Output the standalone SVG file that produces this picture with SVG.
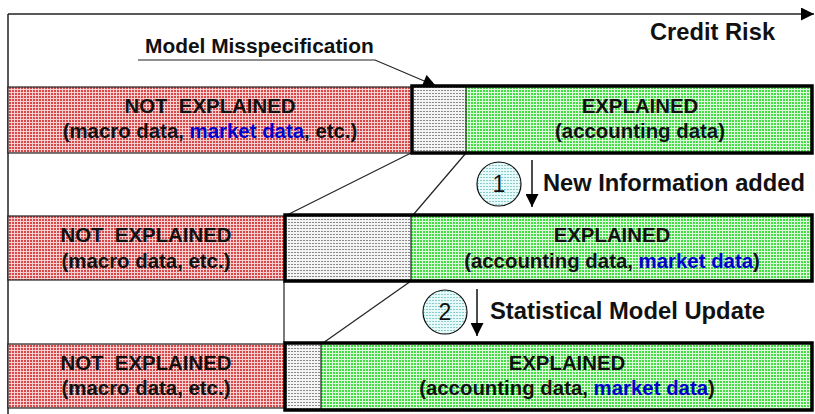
<svg xmlns="http://www.w3.org/2000/svg" width="815" height="414" viewBox="0 0 815 414">
<style>
text{white-space:pre}
.t{font-family:"Liberation Sans",Arial,sans-serif;font-weight:bold;fill:#111}
.c{text-anchor:middle}
.m{fill:#0000cc}
.thin{stroke:#222;stroke-width:1.2;fill:none}
.red{fill:url(#pr);stroke:#222;stroke-width:1.2}
.box{fill:none;stroke:#000;stroke-width:3.5}
.circ{fill:url(#pc);stroke:#111;stroke-width:1.2}
.num{font-family:"Liberation Sans",Arial,sans-serif;font-size:23px;fill:#111;text-anchor:middle}
</style>
<defs>
<pattern id="pr" width="3" height="3" patternUnits="userSpaceOnUse"><rect width="3" height="3" fill="#f6d0d0"/><rect width="2" height="2" fill="#d94848"/></pattern>
<pattern id="pg" width="3" height="3" patternUnits="userSpaceOnUse"><rect width="3" height="3" fill="#dcf9dc"/><rect width="2" height="2" fill="#44dd44"/></pattern>
<pattern id="pk" width="3" height="3" patternUnits="userSpaceOnUse"><rect width="3" height="3" fill="#f4f4f4"/><rect width="2" height="1" fill="#8a8a8a"/></pattern>
<pattern id="pc" width="3" height="3" patternUnits="userSpaceOnUse"><rect width="3" height="3" fill="#e6fafa"/><rect width="2" height="1" fill="#8ccccc"/></pattern>
<marker id="ahb" viewBox="0 0 10 10" refX="10" refY="5" markerWidth="15" markerHeight="13" markerUnits="userSpaceOnUse" orient="auto"><path d="M0,0 L10,5 L0,10 Z" fill="#000"/></marker>
</defs>

<g id="axis">
<line x1="8" y1="14" x2="8" y2="414" stroke="#222" stroke-width="1.5"/>
<line x1="8" y1="14" x2="814" y2="14" stroke="#222" stroke-width="1.5" marker-end="url(#ahb)"/>
<text class="t" x="650" y="40" font-size="23.7">Credit Risk</text>
</g>

<g id="connectors">
<polyline class="thin" points="138,60 375,60 436,86" stroke-width="1.5" marker-end="url(#ahb)"/>
<line class="thin" x1="411" y1="153" x2="287" y2="215"/>
<line class="thin" x1="466" y1="153" x2="413" y2="215"/>
<line class="thin" x1="411" y1="281" x2="323" y2="343"/>
<line class="thin" x1="284" y1="281" x2="284" y2="343"/>
<line x1="532" y1="160" x2="532" y2="207" stroke="#111" stroke-width="1.5" marker-end="url(#ahb)"/>
<line x1="477" y1="289" x2="477" y2="336" stroke="#111" stroke-width="1.5" marker-end="url(#ahb)"/>
</g>

<g id="label-misspec"><text class="t" x="145" y="53" font-size="20.9">Model Misspecification</text></g>

<g id="row1">
<rect class="red" x="8" y="87" width="404" height="66"/>
<rect x="412" y="86" width="54" height="67" fill="url(#pk)"/>
<rect x="466" y="86" width="346" height="67" fill="url(#pg)"/>
<line class="thin" x1="466" y1="86" x2="466" y2="153"/>
<rect class="box" x="412" y="86" width="400" height="67"/>
<text class="t c" x="210" y="113" font-size="20.4">NOT  EXPLAINED</text>
<text class="t c" x="210" y="138" font-size="20.4">(macro data, <tspan class="m">market data</tspan>, etc.)</text>
<text class="t c" x="640" y="113" font-size="20.4">EXPLAINED</text>
<text class="t c" x="640" y="138" font-size="20.4">(accounting data)</text>
</g>

<g id="step1">
<circle class="circ" cx="499" cy="184" r="22"/>
<text class="num" x="499" y="192">1</text>
<text class="t" x="543" y="191" font-size="23.7">New Information added</text>
</g>

<g id="row2">
<rect class="red" x="8" y="216" width="277" height="64"/>
<rect x="285" y="215" width="126" height="66" fill="url(#pk)"/>
<rect x="411" y="215" width="401" height="66" fill="url(#pg)"/>
<line class="thin" x1="411" y1="215" x2="411" y2="281"/>
<rect class="box" x="285" y="215" width="527" height="66"/>
<text class="t c" x="146" y="242" font-size="20.4">NOT  EXPLAINED</text>
<text class="t c" x="146" y="268" font-size="20.4">(macro data, etc.)</text>
<text class="t c" x="612" y="242" font-size="20.4">EXPLAINED</text>
<text class="t c" x="612" y="268" font-size="20.4">(accounting data, <tspan class="m">market data</tspan>)</text>
</g>

<g id="step2">
<circle class="circ" cx="445" cy="312" r="22"/>
<text class="num" x="445" y="320">2</text>
<text class="t" x="490" y="319" font-size="23.8">Statistical Model Update</text>
</g>

<g id="row3">
<rect class="red" x="8" y="344" width="277" height="64"/>
<rect x="285" y="343" width="36" height="67" fill="url(#pk)"/>
<rect x="321" y="343" width="491" height="67" fill="url(#pg)"/>
<line class="thin" x1="321" y1="343" x2="321" y2="410"/>
<rect class="box" x="285" y="343" width="527" height="67"/>
<text class="t c" x="146" y="370" font-size="20.4">NOT  EXPLAINED</text>
<text class="t c" x="146" y="395" font-size="20.4">(macro data, etc.)</text>
<text class="t c" x="567" y="370" font-size="20.4">EXPLAINED</text>
<text class="t c" x="567" y="395" font-size="20.4">(accounting data, <tspan class="m">market data</tspan>)</text>
</g>
</svg>
